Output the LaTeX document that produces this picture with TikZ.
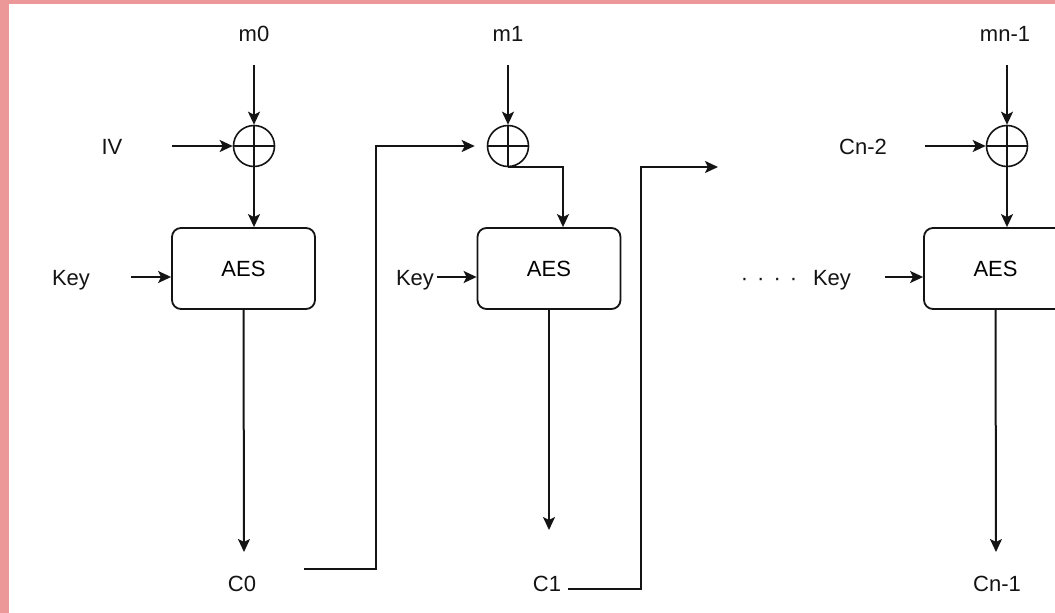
\documentclass[tikz,border=0pt]{standalone}
\usepackage{fontspec}
\setmainfont{Liberation Sans}
\usetikzlibrary{arrows.meta,calc}
\definecolor{pinkb}{RGB}{236,152,152}
\definecolor{inkc}{RGB}{20,20,20}
\begin{document}
\begin{tikzpicture}[x=1pt,y=-1pt,
  font=\fontsize{22}{26}\selectfont,
  arr/.style={draw=inkc, line width=2pt, -{Stealth[length=13pt,width=12pt,inset=3pt]}},
  aesbox/.style={draw=inkc, line width=1.8pt, rounded corners=9pt, minimum width=143pt, minimum height=81pt, inner sep=0pt},
  xorop/.style={draw=inkc, circle, line width=1.6pt, minimum size=41pt, inner sep=0pt,
    path picture={\draw[line width=1.6pt,inkc] (path picture bounding box.north) -- (path picture bounding box.south)
      (path picture bounding box.west) -- (path picture bounding box.east);}},
  lbl/.style={inner sep=1pt, anchor=base, text=inkc}]
\useasboundingbox (0,0) rectangle (1055,613);
\clip (0,0) rectangle (1055,613);
\fill[white] (0,0) rectangle (1055,613);
\fill[pinkb] (0,0) rectangle (9,613);
\fill[pinkb] (0,0) rectangle (1055,3.5);

% operators and ciphers
\node[xorop] (x1) at (254,146) {};
\node[xorop] (x2) at (508,146) {};
\node[xorop] (x3) at (1007,146) {};
\node[aesbox] (a1) at (243.5,268.5) {AES};
\node[aesbox] (a2) at (549,268.5) {AES};
\node[aesbox] (a3) at (995.5,268.5) {AES};

% labels
\node[lbl] (m0) at (254,41) {m0};
\node[lbl] (m1) at (508,41) {m1};
\node[lbl] (mn) at (1005,41) {mn-1};
\node[lbl] (iv) at (112,154) {IV};
\node[lbl] (cn2) at (863,154) {Cn-2};
\node[lbl] (k1) at (71,285) {Key};
\node[lbl] (k2) at (415,285) {Key};
\node[lbl] (k3) at (832,285) {Key};
\node[lbl] (dots) at (769,285) {·\kern9pt·\kern9pt·\kern9pt·};
\node[lbl] (c0) at (242,591) {C0};
\node[lbl] (c1) at (547,591) {C1};
\node[lbl] (cn1) at (997,591) {Cn-1};

% free ends
\coordinate (m0s) at (254,65);
\coordinate (m1s) at (508,65);
\coordinate (mns) at (1007,65);
\coordinate (ivs) at (172,146);
\coordinate (cn2s) at (925,146);
\coordinate (k1s) at (131,277);
\coordinate (k2s) at (437,277);
\coordinate (k3s) at (885,277);
\coordinate (c0t) at (244,552);
\coordinate (c1t) at (549,530);
\coordinate (cn1t) at (996,552);
\coordinate (c0s) at (304,569);
\coordinate (c1s) at (568,589);
\coordinate (nxt) at (718,167);

% connectors
\draw[arr] (m0s) -- (x1.north);
\draw[arr] (m1s) -- (x2.north);
\draw[arr] (mns) -- (x3.north);
\draw[arr] (ivs) -- (x1.west);
\draw[arr] (cn2s) -- (x3.west);
\draw[arr] (x1.south) -- (x1.south |- a1.north);
\draw[arr] (x2.south) -| ([xshift=14pt]a2.north);
\draw[arr] (x3.south) -- (x3.south |- a3.north);
\draw[arr] (k1s) -- (k1s -| a1.west);
\draw[arr] (k2s) -- (k2s -| a2.west);
\draw[arr] (k3s) -- (k3s -| a3.west);
\draw[arr] (a1.south) -- (c0t);
\draw[arr] (a2.south) -- (c1t);
\draw[arr] (a3.south) -- (cn1t);
\draw[arr, shorten >=12pt] (c0s) -- (376,569) -- (376,146) -- (x2.west);
\draw[arr] (c1s) -- (641,589) -- (641,167) -- (nxt);
\end{tikzpicture}
\end{document}
